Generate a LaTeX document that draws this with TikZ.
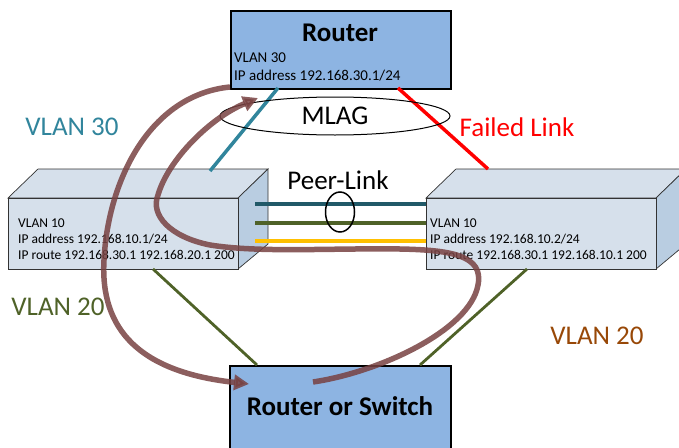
\documentclass[tikz,border=0pt]{standalone}
\usepackage{fontspec}
\setmainfont{Carlito}
\usetikzlibrary{arrows.meta,shapes.geometric}
\definecolor{boxblue}{RGB}{141,180,226}
\definecolor{swfront}{RGB}{214,224,235}
\definecolor{swside}{RGB}{185,205,225}
\definecolor{tealA}{RGB}{49,133,156}
\definecolor{tealB}{RGB}{33,89,104}
\definecolor{oliveG}{RGB}{79,98,40}
\definecolor{goldY}{RGB}{255,192,0}
\definecolor{brownO}{RGB}{152,72,7}
\definecolor{flow}{RGB}{120,66,66}
\begin{document}
\begin{tikzpicture}[x=1pt,y=-1pt,
  devbox/.style={draw=black,line width=1.5pt,fill=boxblue},
  swface/.style={draw=black!80,line width=0.7pt,fill=swfront},
  swsidef/.style={draw=black!80,line width=0.7pt,fill=swside},
  small/.style={font=\fontsize{13.5}{16}\selectfont,anchor=base west,inner sep=0pt},
  rsmall/.style={font=\fontsize{15}{18}\selectfont,anchor=base west,inner sep=0pt},
  big/.style={font=\fontsize{27}{30}\selectfont,inner sep=0pt},
  title/.style={font=\fontsize{27}{30}\selectfont\bfseries,inner sep=0pt},
  flowarrow/.style={draw=flow,opacity=0.85,line width=5.5pt,-{Triangle[length=15pt,width=15pt]}},
  link/.style={line width=3.5pt}
]
\clip (0,0) rectangle (679,447);
\useasboundingbox (0,0) rectangle (679,447);

% Router
\node[devbox,minimum width=220pt,minimum height=78pt,anchor=north west,inner sep=0pt] (router) at (230,10) {};
\node[title] (routerT) at (340,33) {Router};
\node[rsmall] (rv) at (234,62) {VLAN 30};
\node[rsmall] (rip) at (234,80) {IP address 192.168.30.1/24};

% Bottom router or switch
\node[devbox,minimum width=221pt,minimum height=100pt,anchor=north west,inner sep=0pt] (bottom) at (229,365) {};
\node[title] (bottomT) at (340,406) {Router or Switch};

% Left switch
\filldraw[swface] (8,198) -- (38,169) -- (268,169) -- (238,198) -- cycle;
\filldraw[swsidef] (238,198) -- (268,169) -- (268,244) -- (238,269) -- cycle;
\node[swface,minimum width=230pt,minimum height=71pt,anchor=north west,inner sep=0pt] (lsw) at (8,198) {};
\node[small] (l1) at (18,227) {VLAN 10};
\node[small] (l2) at (18,243) {IP address 192.168.10.1/24};
\node[small] (l3) at (18,259) {IP route 192.168.30.1 192.168.20.1 200};

% Right switch
\filldraw[swface] (426,198) -- (456,169) -- (686,169) -- (656,198) -- cycle;
\filldraw[swsidef] (656,198) -- (686,169) -- (686,244) -- (656,269) -- cycle;
\node[swface,minimum width=230pt,minimum height=71pt,anchor=north west,inner sep=0pt] (rsw) at (426,198) {};
\node[small] (r1) at (430,227) {VLAN 10};
\node[small] (r2) at (430,243) {IP address 192.168.10.2/24};
\node[small] (r3) at (430,259) {IP route 192.168.30.1 192.168.10.1 200};

% coordinates for link ends
\coordinate (pl1a) at (255,204); \coordinate (pl1b) at (426,204);
\coordinate (pl2a) at (255,223); \coordinate (pl2b) at (426,223);
\coordinate (pl3a) at (255,241); \coordinate (pl3b) at (426,241);
\coordinate (rtA) at (278,88); \coordinate (lswTop) at (210,171);
\coordinate (rtB) at (398,88); \coordinate (rswTop) at (488,169);
\coordinate (lswBot) at (153,269); \coordinate (btA) at (257,365);
\coordinate (rswBot) at (527,269); \coordinate (btB) at (420,365);

% peer links
\draw[link,tealB] (pl1a) -- (pl1b);
\draw[link,oliveG] (pl2a) -- (pl2b);
\draw[link,goldY] (pl3a) -- (pl3b);
\node[draw=black,line width=1.5pt,ellipse,minimum width=29pt,minimum height=40pt,inner sep=0pt] (plell) at (340,212) {};
\node[big] (plT) at (338,180) {Peer-Link};

% uplinks
\draw[link,tealA] (rtA) -- (lswTop);
\draw[link,red] (rtB) -- (rswTop);
\draw[line width=2.8pt,oliveG] (lswBot) -- (btA);
\draw[line width=2.8pt,oliveG] (rswBot) -- (btB);

% MLAG
\node[draw=black,line width=1pt,ellipse,minimum width=230pt,minimum height=38pt,inner sep=0pt] (mlag) at (335,116) {};
\node[big] (mlagT) at (335,116) {MLAG};

% labels
\node[big,text=tealA] (v30) at (72,127) {VLAN 30};
\node[big,text=red] (fl) at (517,127) {Failed Link};
\node[big,text=oliveG] (v20a) at (58,307) {VLAN 20};
\node[big,text=brownO] (v20b) at (597,336) {VLAN 20};

% flow arrows
\coordinate (f1s) at (313,382);
\coordinate (f1e) at (258,98);
\coordinate (f2s) at (230,87);
\coordinate (f2e) at (249,384);
\draw[flowarrow] (f1s) .. controls (380,372) and (470,330) .. (478,285)
  .. controls (484,255) and (450,250) .. (400,249)
  .. controls (330,248) and (260,253) .. (210,245)
  .. controls (170,237) and (150,215) .. (158,195)
  .. controls (168,160) and (210,118) .. (f1e);
\draw[flowarrow] (f2s) .. controls (150,95) and (108,180) .. (104,260)
  .. controls (100,330) and (140,372) .. (f2e);
\end{tikzpicture}
\end{document}
